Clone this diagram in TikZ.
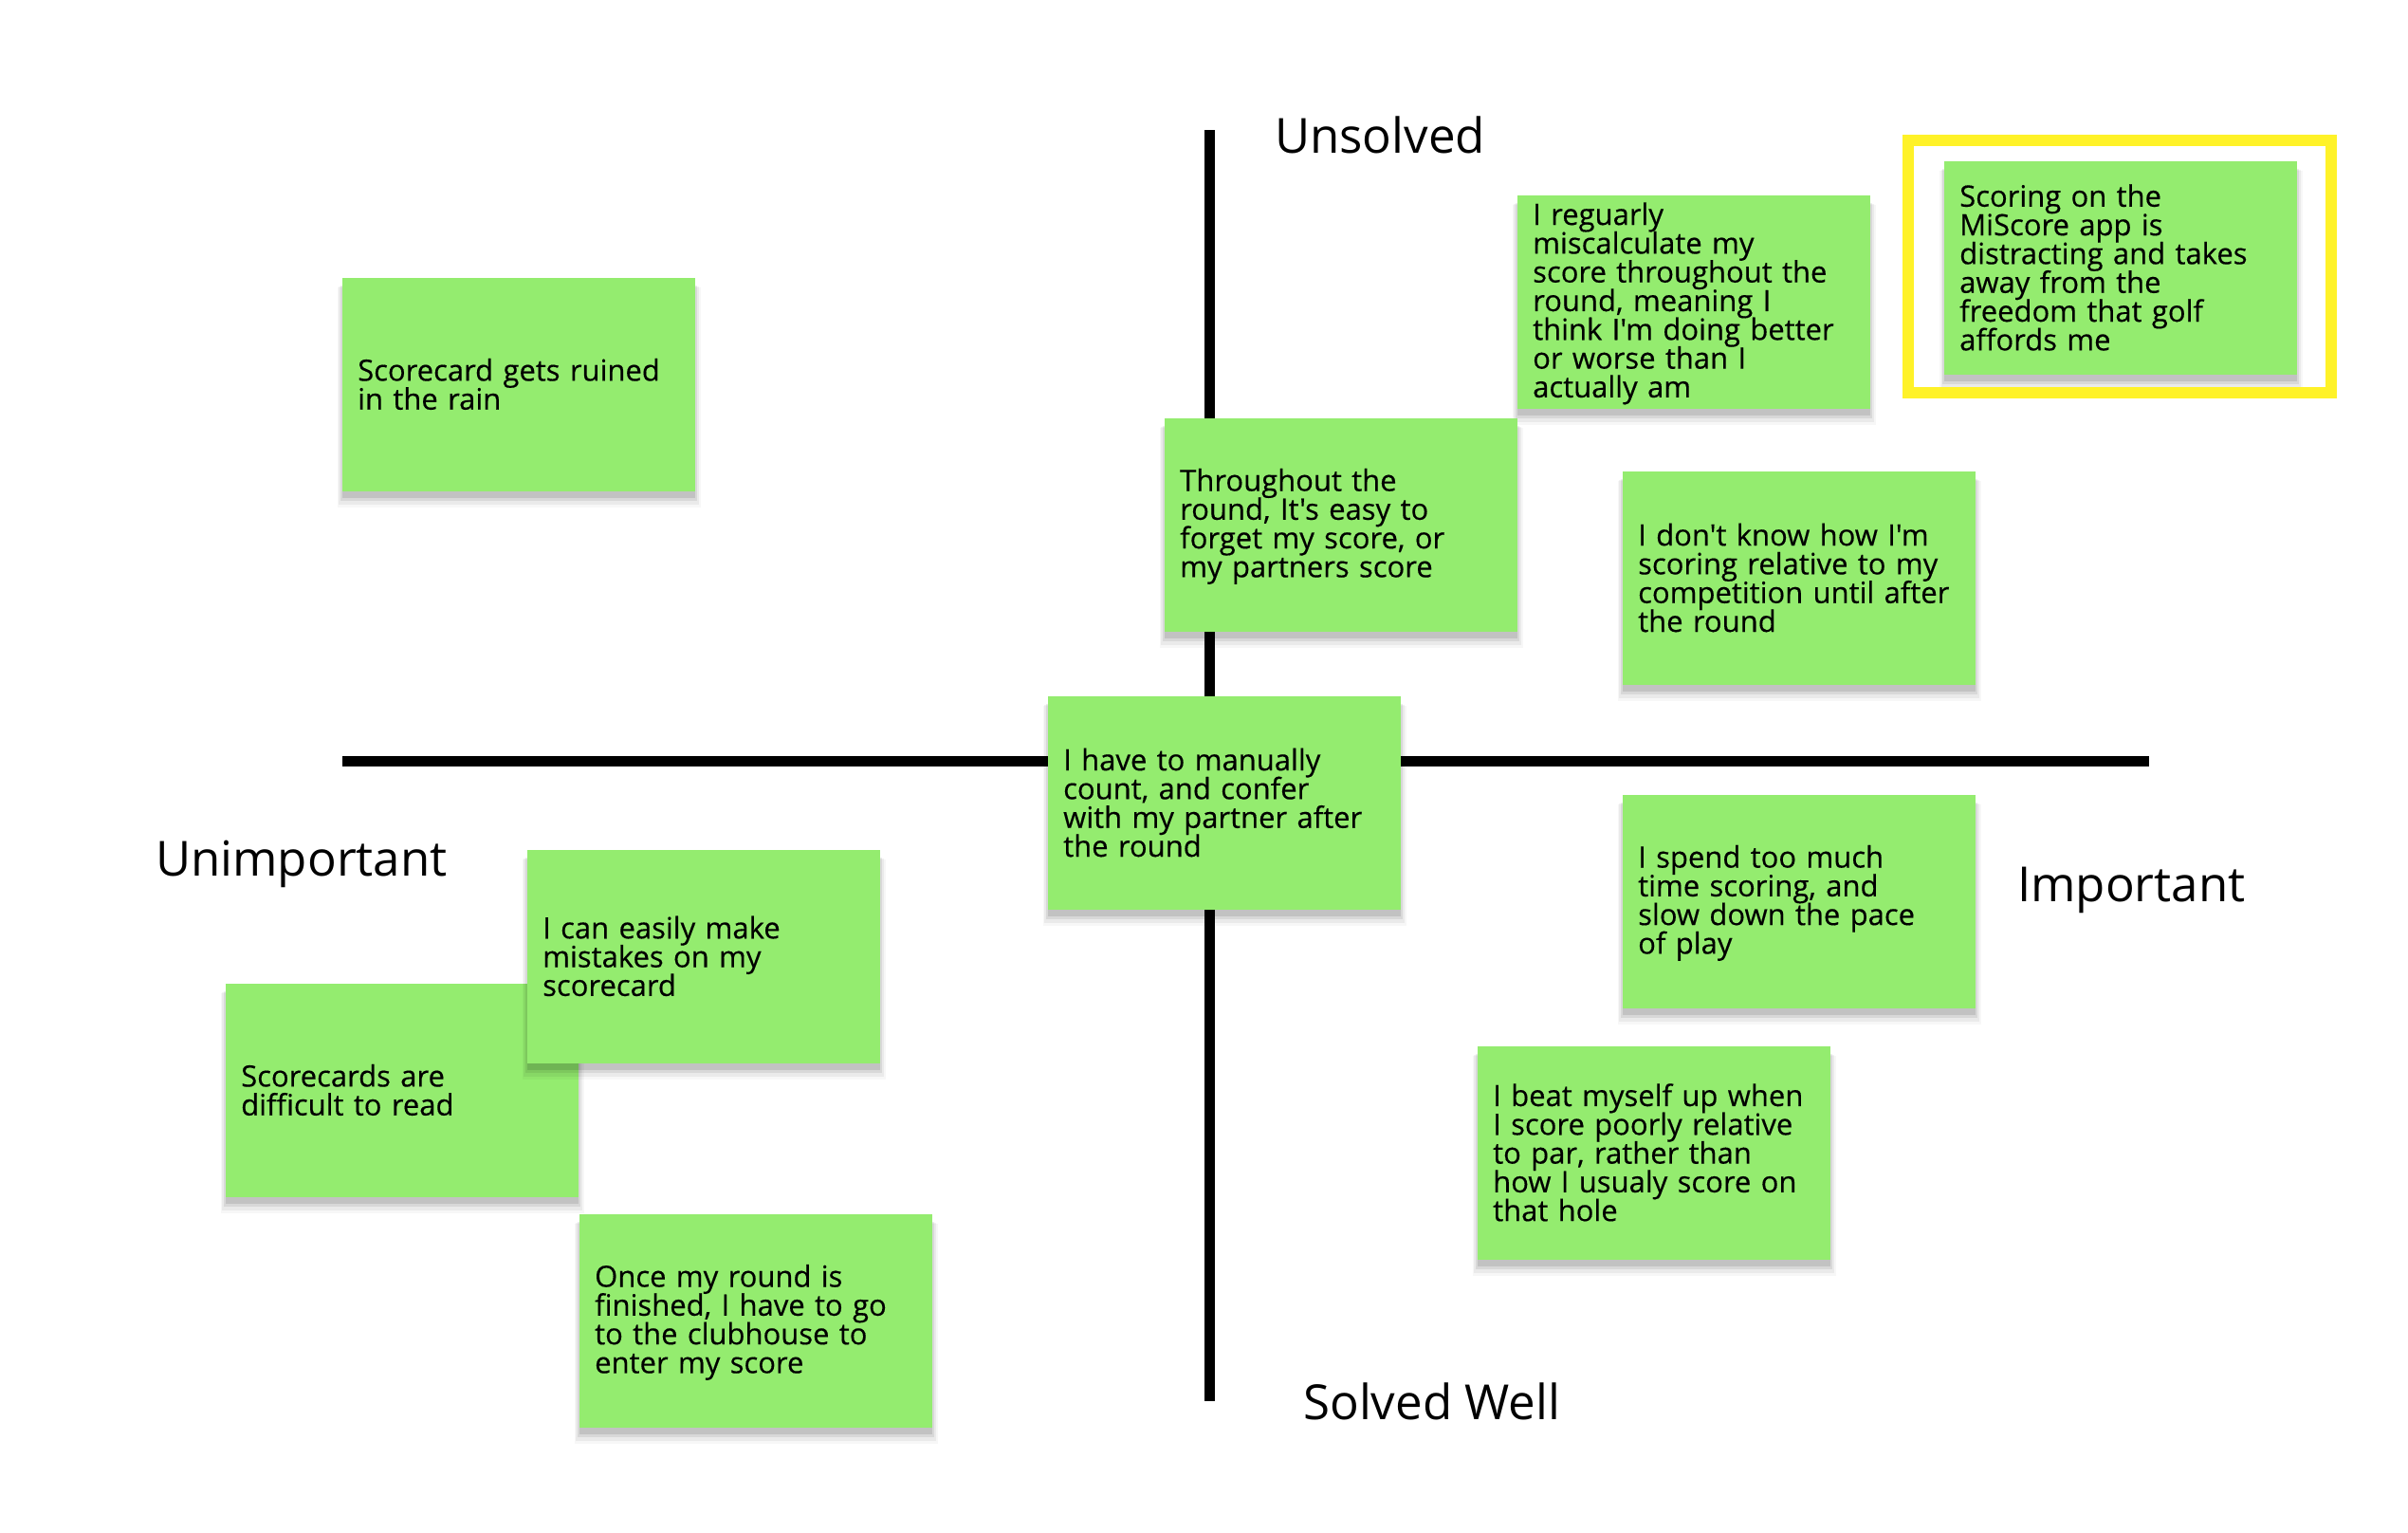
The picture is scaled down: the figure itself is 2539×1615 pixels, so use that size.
\documentclass[tikz,border=0pt]{standalone}
\usepackage{fontspec}
\newfontfamily\nf{Open Sans}
\newfontfamily\nfnote{Open Sans}[FakeBold=0.35]
\usetikzlibrary{shadows}
\definecolor{notegreen}{RGB}{148,236,111}
\definecolor{hlyellow}{RGB}{255,242,40}
\newcommand\nstrut{\rule[-4.3pt]{0pt}{30.3pt}}
\newcommand\notefont{\nfnote\fontsize{31}{30.3}\selectfont\lineskiplimit=-1000pt\relax}
\begin{document}
\begin{tikzpicture}[x=1pt,y=-1pt,
  softshadow/.style={
    drop shadow={shadow xshift=0pt,shadow yshift=-7pt,shadow scale=1.0,opacity=0.10,fill=black},
    drop shadow={shadow xshift=0pt,shadow yshift=-9pt,shadow scale=1.01,opacity=0.07,fill=black},
    drop shadow={shadow xshift=0pt,shadow yshift=-11pt,shadow scale=1.02,opacity=0.05,fill=black},
    drop shadow={shadow xshift=0pt,shadow yshift=-13pt,shadow scale=1.03,opacity=0.03,fill=black}},
  note/.style={rectangle, fill=notegreen, minimum width=372pt, minimum height=225pt,
    text width=340pt, inner xsep=16pt, inner ysep=0pt, align=left, anchor=north west,
    font=\notefont, softshadow},
  axisline/.style={line width=11.5pt, black},
  lab/.style={anchor=base west, inner sep=0pt, font=\nf\fontsize{51}{51}\selectfont}]
\useasboundingbox[fill=white] (0,0) rectangle (2539,1615);
% axes
\coordinate (vt) at (1275.5,137);
\coordinate (vb) at (1275.5,1477);
\coordinate (hleft) at (361,802.5);
\coordinate (hright) at (2266,802.5);
\draw[axisline] (vt) -- (vb);
\draw[axisline] (hleft) -- (hright);
% labels
\node[lab] (unsolved) at (1344,161) {Unsolved};
\node[lab] (solved) at (1374,1496) {Solved Well};
\node[lab] (unimp) at (164,923) {Unimportant};
\node[lab] (imp) at (2127,950) {Important};
% notes
\node[note] (n1) at (361,293) {\nstrut Scorecard gets ruined\\in the rain\nstrut};
\node[note] (n2) at (1600,206) {\nstrut I reguarly\\miscalculate my\\score throughout the\\round, meaning I\\think I'm doing better\\or worse than I\\actually am\nstrut};
\node[note] (n3) at (2050,170) {\nstrut Scoring on the\\MiScore app is\\distracting and takes\\away from the\\freedom that golf\\affords me\nstrut};
\node[note] (n4) at (1228,441) {\nstrut Throughout the\\round, It's easy to\\forget my score, or\\my partners score\nstrut};
\node[note] (n5) at (1711,497) {\nstrut I don't know how I'm\\scoring relative to my\\competition until after\\the round\nstrut};
\node[note] (n6) at (1105,734) {\nstrut I have to manually\\count, and confer\\with my partner after\\the round\nstrut};
\node[note] (n7) at (1711,838) {\nstrut I spend too much\\time scoring, and\\slow down the pace\\of play\nstrut};
\node[note] (n9) at (238,1037) {\nstrut Scorecards are\\difficult to read\nstrut};
\node[note] (n8) at (556,896) {\nstrut I can easily make\\mistakes on my\\scorecard\nstrut};
\node[note] (n10) at (1558,1103) {\nstrut I beat myself up when\\I score poorly relative\\to par, rather than\\how I usualy score on\\that hole\nstrut};
\node[note] (n11) at (611,1280) {\nstrut Once my round is\\finished, I have to go\\to the clubhouse to\\enter my score\nstrut};
% highlight
\node[draw=hlyellow, line width=12pt, minimum width=446pt, minimum height=266pt, inner sep=0pt] (hlbox) at (2235,281) {};
\end{tikzpicture}
\end{document}
